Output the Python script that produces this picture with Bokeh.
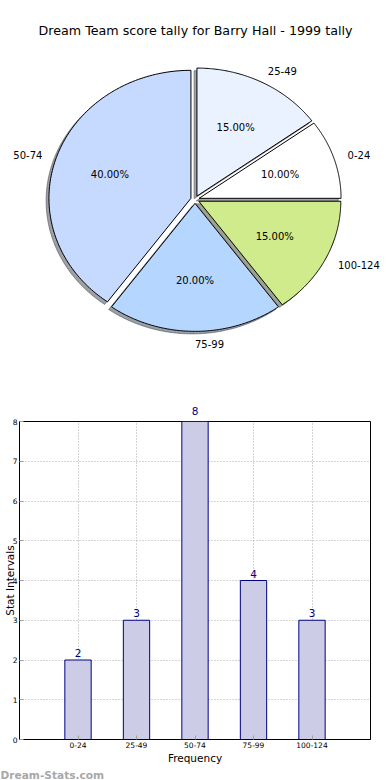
import numpy as np
from bokeh.plotting import figure
from bokeh.models import (Range1d, Label, LabelSet, ColumnDataSource, FixedTicker,
                          LinearAxis, Title)
from bokeh.embed import file_html
from bokeh.resources import INLINE
from bokeh.core.properties import value

# ---------------- data ----------------
title_text = "Dream Team score tally for Barry Hall - 1999 tally"
categories = ["0-24", "25-49", "50-74", "75-99", "100-124"]
counts = [2, 3, 8, 4, 3]
pie_colors = ["#FFFFFF", "#EBF2FF", "#C6D9FF", "#B5D6FF", "#CFEB8B"]
explode = [0.03, 0.03, 0.03, 0.03, 0.03]
y_ticks = [0, 1, 2, 3, 4, 5, 6, 7, 8]
x_label = "Frequency"
y_label = "Stat Intervals"
watermark = "Dream-Stats.com"

FONT = "DejaVu Sans"
W = 390
H1 = 390
H2 = 390

# ---------------- pie ----------------
RX, RY = 142.0, 128.0          # pixel radii (ellipse)
CXP, CYP = 194.5, 199.0        # pixel centre in the figure
x0 = -CXP / RX
x1 = (W - CXP) / RX
y1 = CYP / RY
y0 = -(H1 - CYP) / RY

pie = figure(width=W, height=H1, x_range=Range1d(x0, x1), y_range=Range1d(y0, y1),
             output_backend="svg", toolbar_location=None, title=None,
             x_axis_location=None, y_axis_location=None,
             min_border=0, min_border_left=0, min_border_right=0,
             min_border_top=0, min_border_bottom=0)
pie.grid.visible = False
pie.outline_line_color = None
pie.background_fill_color = "white"
pie.border_fill_color = "white"

vals = np.array(counts, dtype=float)
frac = vals / vals.sum()
edges = np.concatenate([[0.0], np.cumsum(frac)]) * 2 * np.pi

xs, ys, sxs, sys_, scol = [], [], [], [], []
lab_x, lab_y, lab_align, pct_x, pct_y, pct_t = [], [], [], [], [], []
for i in range(len(vals)):
    t1, t2 = edges[i], edges[i + 1]
    mid = 0.5 * (t1 + t2)
    ex = explode[i] * np.cos(mid)
    ey = explode[i] * np.sin(mid)
    th = np.linspace(t1, t2, 120)
    px = np.concatenate([[ex], ex + np.cos(th)])
    py = np.concatenate([[ey], ey + np.sin(th)])
    xs.append(px.tolist())
    ys.append(py.tolist())
    sxs.append((px - 0.02).tolist())
    sys_.append((py - 0.02).tolist())
    h = pie_colors[i].lstrip("#")
    r, g, b = [int(h[k:k + 2], 16) for k in (0, 2, 4)]
    scol.append("#%02x%02x%02x" % (int(r * 0.3), int(g * 0.3), int(b * 0.3)))
    lx = ex + 1.1 * np.cos(mid)
    ly = ey + 1.1 * np.sin(mid)
    lab_x.append(lx)
    lab_y.append(ly)
    lab_align.append("left" if lx > -1e-9 else "right")
    pct_x.append(ex + 0.6 * np.cos(mid))
    pct_y.append(ey + 0.6 * np.sin(mid))
    pct_t.append("%.2f%%" % (frac[i] * 100))

pie.patches(xs=sxs, ys=sys_, fill_color=scol, fill_alpha=0.5, line_color=scol, line_alpha=0.5, line_width=1)
pie.patches(xs=xs, ys=ys, fill_color=pie_colors, line_color="black", line_width=1)

lsrc = ColumnDataSource(dict(x=lab_x, y=lab_y, t=categories, a=lab_align))
pie.text(x="x", y="y", text="t", text_align="a", text_baseline="middle",
         text_font=value(FONT), text_font_size="10px", text_color="black", source=lsrc)
psrc = ColumnDataSource(dict(x=pct_x, y=pct_y, t=pct_t))
pie.text(x="x", y="y", text="t", text_align="center", text_baseline="middle",
         text_font=value(FONT), text_font_size="10px", text_color="black", source=psrc)

pie.add_layout(Label(x=(195 - CXP) / RX, y=(CYP - 30) / RY, text=title_text,
                     text_align="center", text_baseline="middle",
                     text_font=FONT, text_font_size="12.7px", text_color="black"))

# ---------------- bars ----------------
positions = list(range(1, len(categories) + 1))
bar = figure(width=W, height=H2, x_range=Range1d(0, len(categories) + 1),
             y_range=Range1d(y_ticks[0], y_ticks[-1]), title=None,
             output_backend="svg", toolbar_location=None,
             min_border_left=19, min_border_right=20, min_border_top=31, min_border_bottom=40)
bar.outline_line_color = "black"
bar.outline_line_width = 1

bar.vbar(x=positions, top=counts, width=0.45, bottom=0, fill_color="#CCCCE6",
         line_color="#000080", line_width=1)

bax = bar.below[0]
lax = bar.left[0]
bax.ticker = FixedTicker(ticks=positions)
bax.major_label_overrides = {p: c for p, c in zip(positions, categories)}
lax.ticker = FixedTicker(ticks=y_ticks)
bar.xgrid.ticker = FixedTicker(ticks=positions)
bar.ygrid.ticker = FixedTicker(ticks=y_ticks)
for gr in (bar.xgrid, bar.ygrid):
    gr.grid_line_color = "#aaaaaa"
    gr.grid_line_dash = "1 2"
    gr.grid_line_width = 1

for ax in (bax, lax):
    ax.axis_line_color = "black"
    ax.major_tick_in = 4
    ax.major_tick_out = 0
    ax.major_tick_line_color = "#a0a0a0"
    ax.minor_tick_line_color = None
    ax.major_label_text_font = FONT
    ax.major_label_text_font_size = "7.5px"
    ax.major_label_text_color = "black"
    ax.axis_label_text_font = FONT
    ax.axis_label_text_font_size = "10.5px"
    ax.axis_label_text_font_style = "normal"
    ax.axis_label_text_color = "black"
bax.axis_label = x_label
lax.axis_label = y_label
bax.major_label_standoff = 2
bax.axis_label_standoff = 1
lax.major_label_standoff = 2
lax.axis_label_standoff = -6

# value labels: inside the frame via LabelSet, at the top edge via an axis above
in_pos = [p for p, c in zip(positions, counts) if c < y_ticks[-1]]
in_cnt = [c for c in counts if c < y_ticks[-1]]
top_pos = [p for p, c in zip(positions, counts) if c >= y_ticks[-1]]
top_cnt = [c for c in counts if c >= y_ticks[-1]]
lsrc2 = ColumnDataSource(dict(x=in_pos, y=in_cnt, t=[str(c) for c in in_cnt]))
bar.add_layout(LabelSet(x="x", y="y", text="t", text_align="center", text_baseline="bottom",
                        y_offset=3, text_font=value(FONT), text_font_size="10.5px",
                        text_color="#000080", source=lsrc2))
top_ax = LinearAxis(ticker=FixedTicker(ticks=top_pos),
                    major_label_overrides={p: str(c) for p, c in zip(top_pos, top_cnt)},
                    axis_line_color=None, major_tick_line_color=None, minor_tick_line_color=None,
                    major_label_text_color="#000080", major_label_text_font=FONT,
                    major_label_text_font_size="10.5px", major_label_standoff=1)
bar.add_layout(top_ax, "above")

bar.add_layout(Title(text=watermark, align="left", offset=-19, standoff=0,
                     text_font=FONT, text_font_size="10.6px", text_font_style="bold",
                     text_color="#a8a8a8"), "below")

open("out.html", "w").write(file_html([pie, bar], INLINE))
